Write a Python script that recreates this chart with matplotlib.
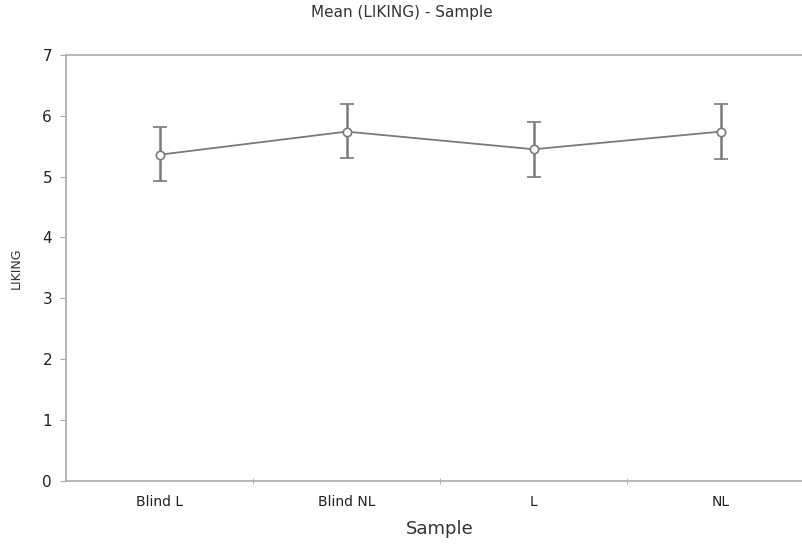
import numpy as np
import matplotlib.pyplot as plt

samples = ['Blind L', 'Blind NL', 'L', 'NL']
means = [5.36, 5.74, 5.45, 5.74]
upper = [5.81, 6.19, 5.89, 6.19]
lower = [4.92, 5.30, 4.99, 5.29]

yerr = [np.array(means) - np.array(lower), np.array(upper) - np.array(means)]
x = np.arange(len(samples))

fig = plt.figure(figsize=(8.03, 5.46), dpi=100)
ax = fig.add_axes([0.0822, 0.1196, 0.9315, 0.7797])

ax.errorbar(x, means, yerr=yerr, color='#7a7a7a', lw=1.3, elinewidth=1.8, capsize=5, capthick=1.8,
            marker='o', markersize=6, markerfacecolor='white', markeredgecolor='#7a7a7a',
            markeredgewidth=1.2, zorder=3)

ax.set_xlim(-0.5, 3.5)
ax.set_ylim(0, 7)
ax.set_yticks(range(0, 8))
ax.set_xticks(x)
ax.set_xticklabels(samples, fontsize=10, color='#222222')
ax.set_xticks([0.5, 1.5, 2.5], minor=True)
ax.tick_params(axis='x', which='major', length=0, pad=10)
ax.tick_params(axis='x', which='minor', length=4, direction='inout', color='#aaaaaa')
ax.tick_params(axis='y', length=4, color='#aaaaaa', labelsize=11, labelcolor='#222222', pad=6)

for s in ['top', 'left', 'bottom']:
    ax.spines[s].set_color('#aaaaaa')
    ax.spines[s].set_linewidth(1.2)
ax.spines['right'].set_visible(False)

ax.set_xlabel('Sample', fontsize=13, color='#333333', labelpad=8)
ax.set_ylabel('LIKING', fontsize=9, color='#333333', labelpad=14)
fig.text(0.5, 0.99, 'Mean (LIKING) - Sample', ha='center', va='top', fontsize=11, color='#333333')

fig.savefig('out.png', dpi=100)
